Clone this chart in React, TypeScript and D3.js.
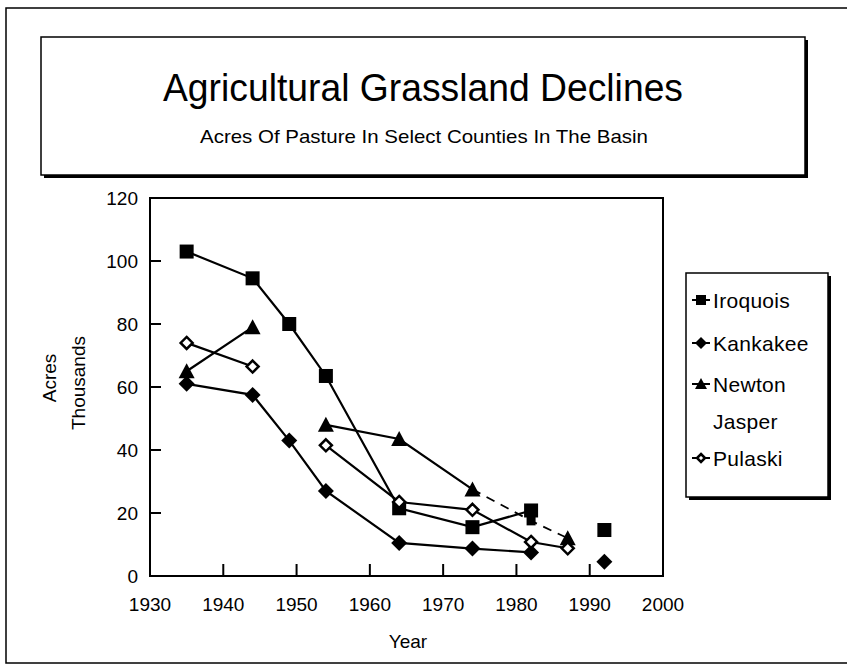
import React from "react";
import * as d3 from "d3";

const years = [1935, 1944, 1949, 1954, 1964, 1974, 1982, 1987, 1992];
const iroquois = [103, 94.5, 80, 63.5, 21.5, 15.5, 20.8, null, 14.6];
const kankakee = [61, 57.5, 43, 27, 10.5, 8.7, 7.5, null, 4.5];
const newton = [65, 79, null, 48, 43.5, 27.5, 17.5, 12, null];
const jasper = [null, null, null, null, null, null, null, null, null];
const pulaski = [74, 66.5, null, 41.5, 23.5, 21, 10.8, 8.8, null];
const newtonDashedFrom = 1974;

const seriesNames = ["Iroquois", "Kankakee", "Newton", "Jasper", "Pulaski"];
const yTicks = [0, 20, 40, 60, 80, 100, 120];
const xTicks = [1930, 1940, 1950, 1960, 1970, 1980, 1990, 2000];

const FONT = "'Liberation Sans', Arial, sans-serif";

type Pt = { x: number; v: number | null };

function Marker({ kind, cx, cy, s }: { kind: string; cx: number; cy: number; s: number }) {
  if (kind === "square")
    return <rect x={cx - s / 2} y={cy - s / 2} width={s} height={s} fill="#000" />;
  if (kind === "diamond") {
    const r = s / 2 + 1;
    return <path d={`M${cx},${cy - r}L${cx + r},${cy}L${cx},${cy + r}L${cx - r},${cy}Z`} fill="#000" />;
  }
  if (kind === "triangle") {
    const r = s / 2;
    return <path d={`M${cx},${cy - r - 1}L${cx + r + 1},${cy + r}L${cx - r - 1},${cy + r}Z`} fill="#000" />;
  }
  if (kind === "odiamond") {
    const r = s / 2 - 1;
    return (
      <path d={`M${cx},${cy - r}L${cx + r},${cy}L${cx},${cy + r}L${cx - r},${cy}Z`} fill="#fff" stroke="#000" strokeWidth={2.5} />
    );
  }
  return null;
}

export default function App() {
  const x = d3.scaleLinear().domain([1930, 2000]).range([150, 663]);
  const y = d3.scaleLinear().domain([0, 120]).range([576, 198]);

  const line = d3
    .line<Pt>()
    .defined((d) => d.v !== null)
    .x((d) => x(d.x))
    .y((d) => y(d.v as number));

  const mk = (vals: (number | null)[]) => years.map((yr, i) => ({ x: yr, v: vals[i] }));

  const series = [
    { name: "Iroquois", data: mk(iroquois), marker: "square" },
    { name: "Kankakee", data: mk(kankakee), marker: "diamond" },
    { name: "Newton", data: mk(newton), marker: "triangle" },
    { name: "Jasper", data: mk(jasper), marker: "none" },
    { name: "Pulaski", data: mk(pulaski), marker: "odiamond" },
  ];

  const legendY = [300, 343, 384, 421, 458];

  return (
    <svg width={847} height={668} style={{ position: "absolute", left: 0, top: 0, background: "#fff" }} fontFamily={FONT}>
      <rect x={0} y={0} width={847} height={668} fill="#fff" />
      {/* outer frame */}
      <rect x={6} y={8} width={860} height={655} fill="none" stroke="#000" strokeWidth={1.5} />
      {/* title box with shadow */}
      <rect x={44} y={40} width={764} height={138} fill="#000" />
      <rect x={41} y={37} width={764} height={138} fill="#fff" stroke="#000" strokeWidth={1.5} />
      <text x={423} y={101} textAnchor="middle" fontSize={38} textLength={520} lengthAdjust="spacingAndGlyphs">
        Agricultural Grassland Declines
      </text>
      <text x={424} y={143} textAnchor="middle" fontSize={19} textLength={448} lengthAdjust="spacingAndGlyphs">
        Acres Of Pasture In Select Counties In The Basin
      </text>

      {/* plot frame */}
      <rect x={x(1930)} y={y(120)} width={x(2000) - x(1930)} height={y(0) - y(120)} fill="none" stroke="#000" strokeWidth={2} />
      {yTicks.slice(1, -1).map((t) => (
        <line key={"yt" + t} x1={x(1930)} x2={x(1930) + 11} y1={y(t)} y2={y(t)} stroke="#000" strokeWidth={2} />
      ))}
      {xTicks.slice(1, -1).map((t) => (
        <line key={"xt" + t} x1={x(t)} x2={x(t)} y1={y(0)} y2={y(0) - 12} stroke="#000" strokeWidth={2} />
      ))}
      {yTicks.map((t) => (
        <text key={"yl" + t} x={138} y={y(t)} dy="0.36em" textAnchor="end" fontSize={19}>
          {t}
        </text>
      ))}
      {xTicks.map((t) => (
        <text key={"xl" + t} x={x(t)} y={611} textAnchor="middle" fontSize={19}>
          {t}
        </text>
      ))}
      <text x={408} y={648} textAnchor="middle" fontSize={19}>Year</text>
      <text transform="translate(56,378) rotate(-90)" textAnchor="middle" fontSize={19}>Acres</text>
      <text transform="translate(85,383) rotate(-90)" textAnchor="middle" fontSize={19}>Thousands</text>

      {/* lines */}
      {series.map((s) => {
        if (s.name === "Newton") {
          const solid = s.data.map((d) => (d.x <= newtonDashedFrom ? d : { x: d.x, v: null }));
          const dashed = s.data.map((d) => (d.x >= newtonDashedFrom ? d : { x: d.x, v: null }));
          return (
            <g key={s.name}>
              <path d={line(solid) || ""} fill="none" stroke="#000" strokeWidth={2.2} />
              <path d={line(dashed) || ""} fill="none" stroke="#000" strokeWidth={1.8} strokeDasharray="9,7" />
            </g>
          );
        }
        return <path key={s.name} d={line(s.data) || ""} fill="none" stroke="#000" strokeWidth={2.2} />;
      })}
      {/* markers */}
      {series.map((s) =>
        s.data
          .filter((d) => d.v !== null)
          .map((d) =>
            s.name === "Newton" && d.x > newtonDashedFrom && d.x < 1987 ? (
              <Marker key={s.name + d.x} kind="square" cx={x(d.x)} cy={y(d.v as number)} s={9} />
            ) : (
              <Marker key={s.name + d.x} kind={s.marker} cx={x(d.x)} cy={y(d.v as number)} s={14} />
            )
          )
      )}

      {/* legend */}
      <rect x={689} y={276} width={142} height={224} fill="#000" />
      <rect x={686} y={273} width={142} height={224} fill="#fff" stroke="#000" strokeWidth={1.5} />
      {series.map((s, i) => (
        <g key={"lg" + s.name}>
          {s.marker !== "none" && (
            <>
              <line x1={692} x2={710} y1={legendY[i]} y2={legendY[i]} stroke="#000" strokeWidth={2} />
              <Marker kind={s.marker} cx={701} cy={legendY[i]} s={10} />
            </>
          )}
          <text x={713} y={legendY[i]} dy="0.36em" fontSize={21} letterSpacing={0.3}>
            {seriesNames[i]}
          </text>
        </g>
      ))}
    </svg>
  );
}
